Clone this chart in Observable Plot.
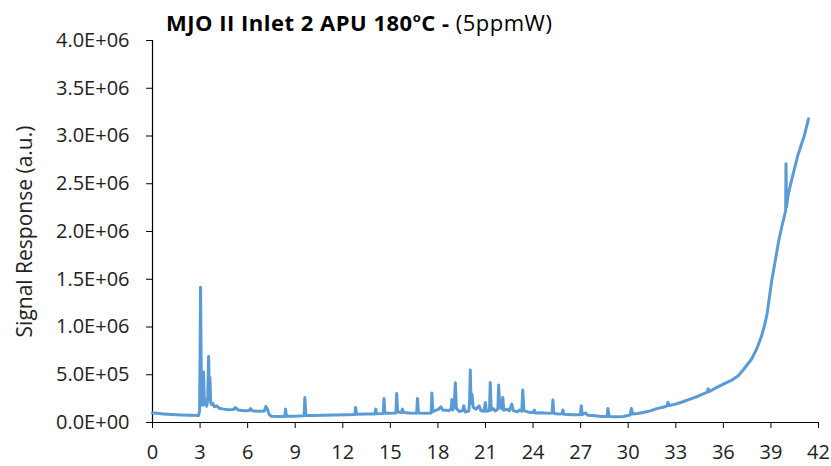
<!DOCTYPE html>
<html><head><meta charset="utf-8">
<script src="https://cdn.jsdelivr.net/npm/d3@7"></script>
<script src="https://cdn.jsdelivr.net/npm/@observablehq/plot@0.6"></script>
<style>
body{margin:0;background:#fff;}
#wrap{position:relative;width:831px;height:466px;}
#title{position:absolute;left:166px;top:9px;font-family:"Open Sans";font-size:22px;line-height:26px;letter-spacing:0.5px;white-space:nowrap;color:#000;}
#title b{font-weight:700;}
#title .sup{font-size:13px;position:relative;top:-9px;}
</style></head><body>
<div id="wrap"><div id="chart"></div><div id="title"><b>MJO II Inlet 2 APU 180<span class="sup">o</span>C -</b> (5ppmW)</div></div>
<script>
const times = [0,0.3,0.7,1.2,1.8,2.4,2.9,2.97,3.0,3.03,3.07,3.1,3.14,3.18,3.22,3.26,3.3,3.36,3.42,3.48,3.54,3.58,3.62,3.67,3.72,3.8,3.9,4.05,4.2,4.5,4.8,5.1,5.23,5.4,5.8,6.1,6.18,6.3,6.7,7.05,7.15,7.25,7.35,7.5,8.0,8.34,8.39,8.45,9.0,9.56,9.61,9.67,10.2,10.8,11.5,12.2,12.76,12.81,12.87,13.5,14.02,14.08,14.14,14.55,14.6,14.66,15.0,15.35,15.4,15.46,15.7,15.76,15.83,16.2,16.66,16.71,16.77,17.2,17.57,17.62,17.68,17.9,18.05,18.19,18.3,18.5,18.7,18.83,18.88,18.94,19.03,19.1,19.16,19.35,19.55,19.63,19.72,19.95,20.0,20.04,20.09,20.15,20.22,20.4,20.6,20.7,20.9,20.99,21.06,21.25,21.3,21.36,21.5,21.62,21.78,21.83,21.89,22.0,22.09,22.15,22.35,22.5,22.66,22.74,23.0,23.15,23.29,23.35,23.42,23.7,24.0,24.08,24.14,24.5,24.9,25.2,25.25,25.31,25.6,25.84,25.88,25.94,26.5,26.98,27.04,27.1,27.3,27.45,27.9,28.3,28.66,28.72,28.8,29.2,29.7,30.12,30.2,30.28,30.6,31.0,31.4,31.8,32.2,32.45,32.5,32.58,32.93,33.4,33.9,34.4,34.8,34.98,35.04,35.12,35.5,36.0,36.5,36.94,37.3,37.78,38.1,38.4,38.6,38.75,39.05,39.3,39.5,39.7,39.93,39.95,39.98,40.1,40.35,40.7,41.1,41.37];
const signal = [100000,96000,90000,84000,79000,75000,73000,120000,700000,1415000,600000,230000,180000,260000,530000,280000,190000,230000,170000,240000,692000,330000,472000,210000,190000,200000,165000,175000,150000,140000,133000,135000,157000,130000,124000,125000,147000,122000,118000,120000,168000,140000,85000,65000,62000,64000,140000,65000,66000,70000,262000,72000,73000,76000,79000,82000,85000,157000,86000,88000,90000,140000,92000,95000,252000,98000,97000,100000,304000,110000,105000,140000,105000,100000,98000,252000,100000,96000,100000,308000,115000,130000,140000,165000,130000,128000,125000,140000,241000,130000,190000,416000,150000,115000,125000,175000,110000,120000,250000,549000,200000,297000,160000,140000,175000,125000,118000,210000,118000,125000,420000,130000,145000,120000,140000,392000,190000,145000,262000,128000,140000,122000,193000,125000,112000,130000,118000,340000,125000,108000,105000,130000,100000,102000,96000,100000,235000,95000,90000,92000,130000,86000,82000,80000,175000,82000,100000,76000,70000,63000,62000,147000,62000,60000,63000,78000,147000,88000,95000,108000,122000,145000,160000,175000,210000,178000,190000,215000,245000,275000,305000,318000,352000,325000,360000,402000,440000,490000,560000,665000,770000,900000,1020000,1130000,1485000,1720000,1910000,2060000,2220000,2710000,2260000,2394000,2570000,2800000,3000000,3180000];
const xTicks = [0,3,6,9,12,15,18,21,24,27,30,33,36,39,42];
const yTicks = [0,500000,1000000,1500000,2000000,2500000,3000000,3500000,4000000];
const yTickLabels = ["0.0E+00","5.0E+05","1.0E+06","1.5E+06","2.0E+06","2.5E+06","3.0E+06","3.5E+06","4.0E+06"];
const yLabel = "Signal Response (a.u.)";

const data = times.map((t, i) => ({t, v: signal[i]}));

const chart = Plot.plot({
  width: 831,
  height: 466,
  marginLeft: 152,
  marginRight: 13,
  marginTop: 40,
  marginBottom: 44,
  style: {fontFamily: "Open Sans", color: "#222", background: "#fff"},
  x: {domain: [0, 42]},
  y: {domain: [0, 4000000]},
  marks: [
    Plot.axisX({ticks: xTicks, tickSize: 6, tickPadding: 16, fontSize: 20, tickFormat: d => String(d), label: null, stroke: "#000"}),
    Plot.axisY({ticks: yTicks, tickSize: 6, tickPadding: 17, fontSize: 20, tickFormat: d => yTickLabels[yTicks.indexOf(d)], label: null, stroke: "#000"}),
    Plot.text([yLabel], {frameAnchor: "left", dx: -127, rotate: -90, fontSize: 21, textAnchor: "middle", lineAnchor: "middle", fill: "#222", letterSpacing: 1}),
    Plot.ruleY([0], {stroke: "#000", strokeWidth: 1.2}),
    Plot.ruleX([0], {stroke: "#000", strokeWidth: 1.2}),
    Plot.line(data, {x: "t", y: "v", stroke: "#5b9bd5", strokeWidth: 3, strokeLinejoin: "round"})
  ]
});
document.getElementById("chart").appendChild(chart);
</script>
</body></html>
